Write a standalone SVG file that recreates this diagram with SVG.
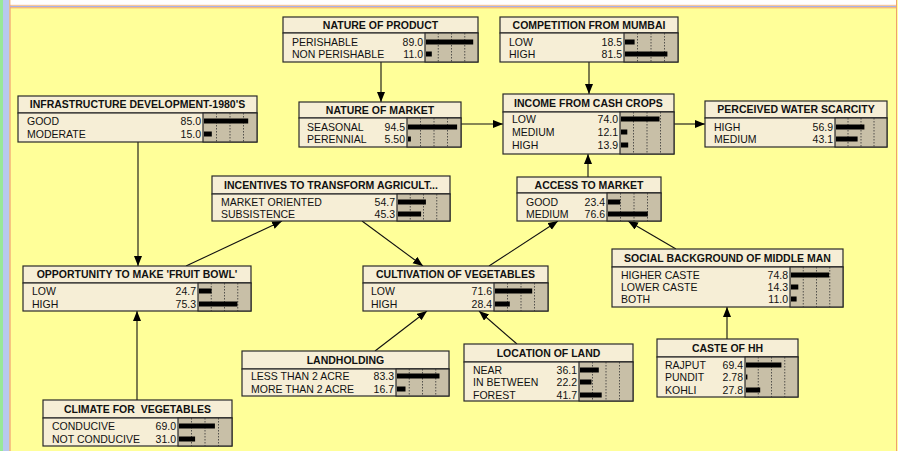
<svg xmlns="http://www.w3.org/2000/svg" width="898" height="451" viewBox="0 0 898 451">
<style>
.bx{fill:#f6eed6;stroke:#2a2a2a;stroke-width:1.2}
.bb{fill:#c8bfa7;stroke:#2a2a2a;stroke-width:1.2}
.g{stroke:#333;stroke-width:0.8;stroke-dasharray:1.5 1.5}
.bar{fill:#000}
text{font-family:"Liberation Sans",Arial,sans-serif;font-size:10.5px;fill:#111}
.t{font-weight:bold;text-anchor:middle;white-space:pre}
.n{text-anchor:end}
.c{fill:none;stroke:#111;stroke-width:1.1}
</style>
<defs>
<marker id="ah" markerUnits="userSpaceOnUse" markerWidth="11" markerHeight="9" refX="10" refY="4" orient="auto">
<path d="M0,0 L10,4 L0,8 z" fill="#000"/>
</marker>
</defs>
<rect x="0" y="0" width="898" height="451" fill="#ffff99"/>
<rect x="0" y="0" width="3" height="451" fill="#98e898"/>
<rect x="3" y="0" width="6.5" height="451" fill="#b8c8ee"/>
<line x1="10" y1="0" x2="10" y2="451" stroke="#f0a070" stroke-width="1.2"/>
<rect x="10.5" y="0" width="885.5" height="5" fill="#ffffff"/>
<line x1="10" y1="5.3" x2="896" y2="5.3" stroke="#f0a8a0" stroke-width="0.8"/>
<line x1="10" y1="6.5" x2="896" y2="6.5" stroke="#a8b0e8" stroke-width="1"/>
<line x1="10" y1="7.8" x2="897" y2="7.8" stroke="#f0a070" stroke-width="1"/>
<line x1="896.5" y1="0" x2="896.5" y2="451" stroke="#f0a070" stroke-width="1"/>

<g id="connectors">
<path class="c" d="M381,62 V102" marker-end="url(#ah)"/>
<path class="c" d="M589,62 V94" marker-end="url(#ah)"/>
<path class="c" d="M461,124 H503" marker-end="url(#ah)"/>
<path class="c" d="M674,124 H705" marker-end="url(#ah)"/>
<path class="c" d="M138,142 V266" marker-end="url(#ah)"/>
<path class="c" d="M186,266 L282,221" marker-end="url(#ah)"/>
<path class="c" d="M362,221 L423,266" marker-end="url(#ah)"/>
<path class="c" d="M489,266 L558,221" marker-end="url(#ah)"/>
<path class="c" d="M588,177 V154" marker-end="url(#ah)"/>
<path class="c" d="M676,249 L628,221" marker-end="url(#ah)"/>
<path class="c" d="M727,339 V307" marker-end="url(#ah)"/>
<path class="c" d="M137,400 V311" marker-end="url(#ah)"/>
<path class="c" d="M375,351 L427,311" marker-end="url(#ah)"/>
<path class="c" d="M517,344 L479,311" marker-end="url(#ah)"/>
</g>

<g id="nature-of-product">
<rect class="bx" x="283" y="17" width="195" height="16"/>
<rect class="bx" x="283" y="33" width="195" height="29"/>
<rect class="bb" x="425" y="33" width="53" height="29"/>
<path class="g" d="M438.25,33V62M451.5,33V62M464.75,33V62"/>
<rect class="bar" x="426" y="39.5" width="47.2" height="5"/>
<rect class="bar" x="426" y="51.5" width="5.8" height="5"/>
<text class="t" x="380.5" y="28.8">NATURE OF PRODUCT</text>
<text x="292" y="45.8">PERISHABLE</text><text class="n" x="423" y="45.8">89.0</text>
<text x="292" y="57.8">NON PERISHABLE</text><text class="n" x="423" y="57.8">11.0</text>
</g>

<g id="competition-from-mumbai">
<rect class="bx" x="500" y="17" width="178" height="16"/>
<rect class="bx" x="500" y="33" width="178" height="29"/>
<rect class="bb" x="624" y="33" width="54" height="29"/>
<path class="g" d="M637.5,33V62M651,33V62M664.5,33V62"/>
<rect class="bar" x="625" y="39.5" width="9.6" height="5"/>
<rect class="bar" x="625" y="51.5" width="42.4" height="5"/>
<text class="t" x="589" y="28.8">COMPETITION FROM MUMBAI</text>
<text x="509" y="45.8">LOW</text><text class="n" x="622" y="45.8">18.5</text>
<text x="509" y="57.8">HIGH</text><text class="n" x="622" y="57.8">81.5</text>
</g>

<g id="nature-of-market">
<rect class="bx" x="299" y="102" width="162" height="16"/>
<rect class="bx" x="299" y="118" width="162" height="29"/>
<rect class="bb" x="407" y="118" width="54" height="29"/>
<path class="g" d="M420.5,118V147M434,118V147M447.5,118V147"/>
<rect class="bar" x="408" y="124.5" width="49.1" height="5"/>
<rect class="bar" x="408" y="136.5" width="2.9" height="5"/>
<text class="t" x="380" y="113.8">NATURE OF MARKET</text>
<text x="307" y="130.8">SEASONAL</text><text class="n" x="405" y="130.8">94.5</text>
<text x="307" y="142.8">PERENNIAL</text><text class="n" x="405" y="142.8">5.50</text>
</g>

<g id="income-from-cash-crops">
<rect class="bx" x="503" y="94" width="171" height="18"/>
<rect class="bx" x="503" y="112" width="171" height="42"/>
<rect class="bb" x="620" y="112" width="54" height="42"/>
<path class="g" d="M633.5,112V154M647,112V154M660.5,112V154"/>
<rect class="bar" x="621" y="116.5" width="38.5" height="5"/>
<rect class="bar" x="621" y="129.5" width="6.3" height="5"/>
<rect class="bar" x="621" y="142.5" width="7.2" height="5"/>
<text class="t" x="588.5" y="106.8">INCOME FROM CASH CROPS</text>
<text x="512" y="122.8">LOW</text><text class="n" x="618" y="122.8">74.0</text>
<text x="512" y="135.8">MEDIUM</text><text class="n" x="618" y="135.8">12.1</text>
<text x="512" y="148.8">HIGH</text><text class="n" x="618" y="148.8">13.9</text>
</g>

<g id="perceived-water-scarcity">
<rect class="bx" x="705" y="101" width="182" height="17"/>
<rect class="bx" x="705" y="118" width="182" height="29"/>
<rect class="bb" x="835" y="118" width="52" height="29"/>
<path class="g" d="M848,118V147M861,118V147M874,118V147"/>
<rect class="bar" x="836" y="124.5" width="28.4" height="5"/>
<rect class="bar" x="836" y="136.5" width="21.6" height="5"/>
<text class="t" x="796" y="113.3">PERCEIVED WATER SCARCITY</text>
<text x="714" y="130.8">HIGH</text><text class="n" x="833" y="130.8">56.9</text>
<text x="714" y="142.8">MEDIUM</text><text class="n" x="833" y="142.8">43.1</text>
</g>

<g id="infrastructure-development">
<rect class="bx" x="18" y="96" width="239" height="17"/>
<rect class="bx" x="18" y="113" width="239" height="29"/>
<rect class="bb" x="203" y="113" width="54" height="29"/>
<path class="g" d="M216.5,113V142M230,113V142M243.5,113V142"/>
<rect class="bar" x="204" y="118.5" width="44.2" height="5"/>
<rect class="bar" x="204" y="131.5" width="7.8" height="5"/>
<text class="t" x="137.5" y="108.3">INFRASTRUCTURE DEVELOPMENT-1980'S</text>
<text x="27" y="124.8">GOOD</text><text class="n" x="201" y="124.8">85.0</text>
<text x="27" y="137.8">MODERATE</text><text class="n" x="201" y="137.8">15.0</text>
</g>

<g id="incentives">
<rect class="bx" x="212" y="176" width="238" height="18"/>
<rect class="bx" x="212" y="194" width="238" height="27"/>
<rect class="bb" x="397" y="194" width="53" height="27"/>
<path class="g" d="M410.25,194V221M423.5,194V221M436.75,194V221"/>
<rect class="bar" x="398" y="199.5" width="27.9" height="5"/>
<rect class="bar" x="398" y="211.5" width="23.1" height="5"/>
<text class="t" x="331" y="188.8">INCENTIVES TO TRANSFORM AGRICULT...</text>
<text x="221" y="205.8">MARKET ORIENTED</text><text class="n" x="395" y="205.8">54.7</text>
<text x="221" y="217.8">SUBSISTENCE</text><text class="n" x="395" y="217.8">45.3</text>
</g>

<g id="access-to-market">
<rect class="bx" x="517" y="177" width="144" height="16"/>
<rect class="bx" x="517" y="193" width="144" height="28"/>
<rect class="bb" x="607" y="193" width="54" height="28"/>
<path class="g" d="M620.5,193V221M634,193V221M647.5,193V221"/>
<rect class="bar" x="608" y="199.5" width="12.2" height="5"/>
<rect class="bar" x="608" y="211.5" width="39.8" height="5"/>
<text class="t" x="589" y="188.8">ACCESS TO MARKET</text>
<text x="526" y="205.8">GOOD</text><text class="n" x="605" y="205.8">23.4</text>
<text x="526" y="217.8">MEDIUM</text><text class="n" x="605" y="217.8">76.6</text>
</g>

<g id="social-background">
<rect class="bx" x="612" y="249" width="231" height="18"/>
<rect class="bx" x="612" y="267" width="231" height="40"/>
<rect class="bb" x="790" y="267" width="53" height="40"/>
<path class="g" d="M803.25,267V307M816.5,267V307M829.75,267V307"/>
<rect class="bar" x="791" y="272.5" width="38.1" height="5"/>
<rect class="bar" x="791" y="284.5" width="7.3" height="5"/>
<rect class="bar" x="791" y="296.5" width="5.6" height="5"/>
<text class="t" x="727.5" y="261.8">SOCIAL BACKGROUND OF MIDDLE MAN</text>
<text x="621" y="278.8">HIGHER CASTE</text><text class="n" x="788" y="278.8">74.8</text>
<text x="621" y="290.8">LOWER CASTE</text><text class="n" x="788" y="290.8">14.3</text>
<text x="621" y="302.8">BOTH</text><text class="n" x="788" y="302.8">11.0</text>
</g>

<g id="opportunity-fruit-bowl">
<rect class="bx" x="23" y="266" width="228" height="17"/>
<rect class="bx" x="23" y="283" width="228" height="28"/>
<rect class="bb" x="198" y="283" width="53" height="28"/>
<path class="g" d="M211.25,283V311M224.5,283V311M237.75,283V311"/>
<rect class="bar" x="199" y="288.5" width="12.6" height="5"/>
<rect class="bar" x="199" y="301.5" width="38.4" height="5"/>
<text class="t" x="137" y="278.3">OPPORTUNITY TO MAKE 'FRUIT BOWL'</text>
<text x="32" y="294.8">LOW</text><text class="n" x="196" y="294.8">24.7</text>
<text x="32" y="307.8">HIGH</text><text class="n" x="196" y="307.8">75.3</text>
</g>

<g id="cultivation-of-vegetables">
<rect class="bx" x="363" y="266" width="185" height="17"/>
<rect class="bx" x="363" y="283" width="185" height="28"/>
<rect class="bb" x="494" y="283" width="54" height="28"/>
<path class="g" d="M507.5,283V311M521,283V311M534.5,283V311"/>
<rect class="bar" x="495" y="288.5" width="37.2" height="5"/>
<rect class="bar" x="495" y="301.5" width="14.8" height="5"/>
<text class="t" x="455.5" y="278.3">CULTIVATION OF VEGETABLES</text>
<text x="371" y="294.8">LOW</text><text class="n" x="492" y="294.8">71.6</text>
<text x="371" y="307.8">HIGH</text><text class="n" x="492" y="307.8">28.4</text>
</g>

<g id="landholding">
<rect class="bx" x="242" y="351" width="207" height="18"/>
<rect class="bx" x="242" y="369" width="207" height="27"/>
<rect class="bb" x="396" y="369" width="53" height="27"/>
<path class="g" d="M409.25,369V396M422.5,369V396M435.75,369V396"/>
<rect class="bar" x="397" y="373.5" width="42.5" height="5"/>
<rect class="bar" x="397" y="386.5" width="8.5" height="5"/>
<text class="t" x="345.5" y="363.8">LANDHOLDING</text>
<text x="251" y="379.8">LESS THAN 2 ACRE</text><text class="n" x="394" y="379.8">83.3</text>
<text x="251" y="392.8">MORE THAN 2 ACRE</text><text class="n" x="394" y="392.8">16.7</text>
</g>

<g id="location-of-land">
<rect class="bx" x="464" y="344" width="169" height="18"/>
<rect class="bx" x="464" y="362" width="169" height="39"/>
<rect class="bb" x="579" y="362" width="54" height="39"/>
<path class="g" d="M592.5,362V401M606,362V401M619.5,362V401"/>
<rect class="bar" x="580" y="367.5" width="18.8" height="5"/>
<rect class="bar" x="580" y="379.5" width="11.5" height="5"/>
<rect class="bar" x="580" y="392.5" width="21.7" height="5"/>
<text class="t" x="548.5" y="356.8">LOCATION OF LAND</text>
<text x="473" y="373.8">NEAR</text><text class="n" x="577" y="373.8">36.1</text>
<text x="473" y="385.8">IN BETWEEN</text><text class="n" x="577" y="385.8">22.2</text>
<text x="473" y="398.8">FOREST</text><text class="n" x="577" y="398.8">41.7</text>
</g>

<g id="caste-of-hh">
<rect class="bx" x="657" y="339" width="141" height="18"/>
<rect class="bx" x="657" y="357" width="141" height="40"/>
<rect class="bb" x="745" y="357" width="53" height="40"/>
<path class="g" d="M758.25,357V397M771.5,357V397M784.75,357V397"/>
<rect class="bar" x="746" y="362.5" width="35.4" height="5"/>
<rect class="bar" x="746" y="374.5" width="1.4" height="5"/>
<rect class="bar" x="746" y="387.5" width="14.2" height="5"/>
<text class="t" x="727.5" y="351.8">CASTE OF HH</text>
<text x="665" y="368.8">RAJPUT</text><text class="n" x="743" y="368.8">69.4</text>
<text x="665" y="380.8">PUNDIT</text><text class="n" x="743" y="380.8">2.78</text>
<text x="665" y="393.8">KOHLI</text><text class="n" x="743" y="393.8">27.8</text>
</g>

<g id="climate-for-vegetables">
<rect class="bx" x="43" y="400" width="189" height="18"/>
<rect class="bx" x="43" y="418" width="189" height="28"/>
<rect class="bb" x="178" y="418" width="54" height="28"/>
<path class="g" d="M191.5,418V446M205,418V446M218.5,418V446"/>
<rect class="bar" x="179" y="423.5" width="35.9" height="5"/>
<rect class="bar" x="179" y="436.5" width="16.1" height="5"/>
<text class="t" x="137.5" y="412.8" xml:space="preserve">CLIMATE FOR  VEGETABLES</text>
<text x="52" y="429.8">CONDUCIVE</text><text class="n" x="176" y="429.8">69.0</text>
<text x="52" y="442.8">NOT CONDUCIVE</text><text class="n" x="176" y="442.8">31.0</text>
</g>
</svg>
